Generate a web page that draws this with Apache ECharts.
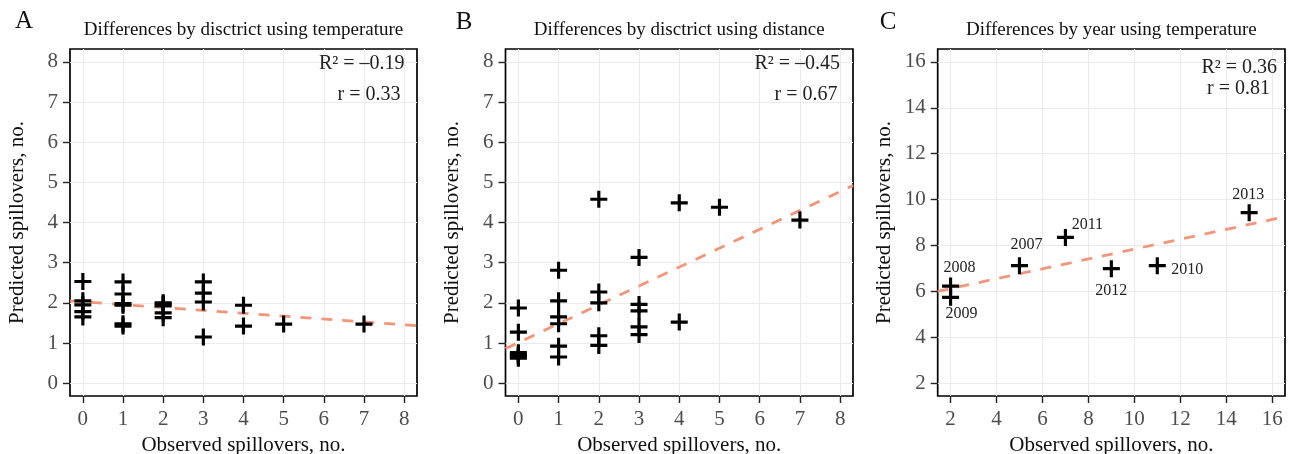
<!DOCTYPE html>
<html><head><meta charset="utf-8">
<script src="https://cdn.jsdelivr.net/npm/echarts@6/dist/echarts.min.js"></script>
<style>html,body{margin:0;padding:0;background:#fff}#c{width:1289px;height:454px}</style>
</head><body><div id="c"></div><script>
// ---------- data ----------
const panelLetters = ['A', 'B', 'C'];
const panelTitles = [
  'Differences by disctrict using temperature',
  'Differences by disctrict using distance',
  'Differences by year using temperature'
];
const xTitle = 'Observed spillovers, no.';
const yTitle = 'Predicted spillovers, no.';
const ticksAB = [0, 1, 2, 3, 4, 5, 6, 7, 8];
const ticksC = [2, 4, 6, 8, 10, 12, 14, 16];
const limitsAB = [-0.32, 8.32];
const limitsC = [1.44, 16.56];

const obsA  = [0, 0, 0, 0, 0, 1, 1, 1, 1, 1, 1, 2, 2, 2, 2, 2, 3, 3, 3, 3, 4, 4, 5, 7];
const predA = [2.53, 2.05, 1.95, 1.78, 1.65, 2.52, 2.22, 1.98, 1.94, 1.48, 1.42, 2.00, 1.97, 1.92, 1.75, 1.63, 2.52, 2.24, 2.02, 1.15, 1.94, 1.42, 1.47, 1.47];

const obsB  = [0, 0, 0, 0, 0, 0, 1, 1, 1, 1, 1, 1, 2, 2, 2, 2, 2, 3, 3, 3, 3, 3, 4, 4, 5, 7];
const predB = [1.87, 1.27, 0.76, 0.71, 0.67, 0.62, 2.81, 2.05, 1.65, 1.48, 0.92, 0.65, 4.58, 2.27, 2.00, 1.18, 0.94, 3.13, 1.96, 1.80, 1.40, 1.21, 4.49, 1.52, 4.38, 4.06];

const yearsC = ['2007', '2008', '2009', '2010', '2011', '2012', '2013'];
const obsC   = [5, 2, 2, 11, 7, 9, 15];
const predC  = [7.12, 6.23, 5.74, 7.12, 8.35, 6.99, 9.43];

// fitted dashed lines (endpoints read at the panel edges)
const trendA = [[-0.32, 2.05], [8.32, 1.43]];
const trendB = [[-0.32, 0.86], [8.32, 4.92]];
const trendC = [[1.44, 6.00], [16.56, 9.25]];

const statR2 = ['R\u00B2 = \u20130.19', 'R\u00B2 = \u20130.45', 'R\u00B2 = 0.36'];
const statR  = ['r = 0.33', 'r = 0.67', 'r = 0.81'];

// ---------- styling / layout ----------
const F = '"Liberation Serif", "DejaVu Serif", serif';
const grids = [
  {left: 70, top: 49, width: 347, height: 347},
  {left: 505.5, top: 49, width: 347.5, height: 347},
  {left: 937.7, top: 49, width: 347.3, height: 347}
];
// label offsets for year labels (px)
const yearLabelOffset = {
  '2007': [7, -21], '2008': [9, -18], '2009': [11, 16], '2010': [30, 4],
  '2011': [22, -13], '2012': [0, 22], '2013': [-1, -18]
};
const plusPath = 'path://M-1.3,-7H1.3V-1.3H7V1.3H1.3V7H-1.3V1.3H-7V-1.3H-1.3Z';

function axis(dim, gi, lim, ticks, step) {
  const isX = dim === 'x';
  return {
    type: 'value', gridIndex: gi, min: lim[0], max: lim[1],
    minInterval: step, maxInterval: step,
    axisLine: {show: false, onZero: false},
    axisTick: {show: true, length: 7, inside: false, customValues: ticks, lineStyle: {color: '#222', width: 1.4}},
    axisLabel: {customValues: ticks, margin: isX ? 12.5 : 12, color: '#4D4D4D', fontSize: 21, fontFamily: F},
    splitLine: {show: true, lineStyle: {color: '#EBEBEB', width: 1.1}},
    name: isX ? xTitle : yTitle, nameLocation: 'middle',
    nameGap: isX ? 39 : 42.5, nameRotate: isX ? 0 : 90,
    nameTextStyle: {color: '#111', fontSize: 21, fontFamily: F}
  };
}

const xAxes = [axis('x', 0, limitsAB, ticksAB, 1), axis('x', 1, limitsAB, ticksAB, 1), axis('x', 2, limitsC, ticksC, 1)];
const yAxes = [axis('y', 0, limitsAB, ticksAB, 1), axis('y', 1, limitsAB, ticksAB, 1), axis('y', 2, limitsC, ticksC, 1)];

const zip = (a, b) => a.map((v, i) => [v, b[i]]);
function pts(gi, data) {
  return {
    type: 'scatter', xAxisIndex: gi, yAxisIndex: gi, data: data,
    symbol: plusPath, symbolSize: 17, z: 5,
    itemStyle: {color: '#000', opacity: 1}, emphasis: {disabled: true}, animation: false
  };
}
function trend(gi, data) {
  return {
    type: 'line', xAxisIndex: gi, yAxisIndex: gi, data: data, showSymbol: false, symbol: 'none',
    clip: true, z: 3,
    lineStyle: {color: '#F4957A', width: 2.8, type: [11, 10]}, animation: false
  };
}

const dataC = obsC.map((x, i) => ({
  value: [x, predC[i]],
  label: {show: true, formatter: yearsC[i], position: 'inside', offset: yearLabelOffset[yearsC[i]],
          color: '#222', fontSize: 16, fontFamily: F}
}));

const graphics = [];
grids.forEach((g, i) => {
  const cx = g.left + g.width / 2;
  graphics.push({type: 'text', x: cx, y: 30.5, style: {text: panelTitles[i], fontSize: 19, fontFamily: F, fill: '#111',
    align: 'center', verticalAlign: 'middle', textAlign: 'center', textVerticalAlign: 'middle'}});
});
const letterPos = [[24, 21], [464, 22], [888, 22]];
letterPos.forEach((p, i) => graphics.push({type: 'text', x: p[0], y: p[1], style: {text: panelLetters[i], fontSize: 25, fontFamily: F, fill: '#111',
  align: 'center', verticalAlign: 'middle', textAlign: 'center', textVerticalAlign: 'middle'}}));
const statPos = [[[404.5, 64], [400.5, 95]], [[840, 64], [837.5, 95]], [[1277, 68], [1270, 89]]];
statPos.forEach((p, i) => {
  graphics.push({type: 'text', x: p[0][0], y: p[0][1], z: 10, style: {text: statR2[i], fontSize: 20, fontFamily: F, fill: '#222',
    align: 'right', verticalAlign: 'middle', textAlign: 'right', textVerticalAlign: 'middle'}});
  graphics.push({type: 'text', x: p[1][0], y: p[1][1], z: 10, style: {text: statR[i], fontSize: 20, fontFamily: F, fill: '#222',
    align: 'right', verticalAlign: 'middle', textAlign: 'right', textVerticalAlign: 'middle'}});
});

const chart = echarts.init(document.getElementById('c'), null, {renderer: 'canvas'});
chart.setOption({
  animation: false,
  backgroundColor: '#fff',
  grid: grids.map(g => Object.assign({show: true, borderColor: '#000', borderWidth: 1.7, backgroundColor: 'transparent',
    containLabel: false, outerBoundsMode: 'none'}, g)),
  xAxis: xAxes,
  yAxis: yAxes,
  series: [
    trend(0, trendA), pts(0, zip(obsA, predA)),
    trend(1, trendB), pts(1, zip(obsB, predB)),
    trend(2, trendC), pts(2, dataC)
  ],
  graphic: graphics
});
</script></body></html>
